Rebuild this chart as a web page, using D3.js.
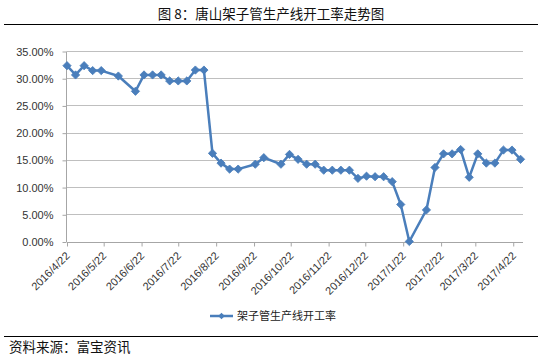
<!DOCTYPE html>
<html>
<head>
<meta charset="utf-8">
<script src="https://cdn.jsdelivr.net/npm/d3@7/dist/d3.min.js"></script>
<style>
  html, body { margin: 0; padding: 0; background: #fff; }
  svg { display: block; }
</style>
</head>
<body>
<div id="chart"></div>
<script>
// ---- data ----
const titleText = "图 8：唐山架子管生产线开工率走势图";
const sourceText = "资料来源：富宝资讯";
const seriesName = "架子管生产线开工率";

const dates = ["2016-04-22","2016-04-29","2016-05-06","2016-05-13","2016-05-20","2016-06-03","2016-06-17","2016-06-24",
  "2016-07-01","2016-07-08","2016-07-15","2016-07-22","2016-07-29","2016-08-05","2016-08-12","2016-08-19","2016-08-26",
  "2016-09-02","2016-09-09","2016-09-23","2016-09-30","2016-10-14","2016-10-21","2016-10-28","2016-11-04","2016-11-11",
  "2016-11-18","2016-11-25","2016-12-02","2016-12-09","2016-12-16","2016-12-23","2016-12-30","2017-01-06","2017-01-13",
  "2017-01-20","2017-01-27","2017-02-10","2017-02-17","2017-02-24","2017-03-03","2017-03-10","2017-03-17","2017-03-24",
  "2017-03-31","2017-04-07","2017-04-14","2017-04-21","2017-04-28"];

const values = [32.3,30.6,32.3,31.4,31.4,30.4,27.6,30.6,30.6,30.6,29.5,29.5,29.5,31.5,31.5,
  16.2,14.4,13.3,13.3,14.2,15.4,14.2,16.0,15.1,14.2,14.2,13.1,13.1,13.1,13.1,
  11.6,12.0,11.9,11.9,11.0,6.8,0,5.8,13.6,16.1,16.1,16.9,11.8,16.1,14.4,14.4,16.8,16.8,15.1];

const xTicks = ["2016-04-22","2016-05-22","2016-06-22","2016-07-22","2016-08-22","2016-09-22","2016-10-22",
  "2016-11-22","2016-12-22","2017-01-22","2017-02-22","2017-03-22","2017-04-22"];
const xTickLabels = ["2016/4/22","2016/5/22","2016/6/22","2016/7/22","2016/8/22","2016/9/22","2016/10/22",
  "2016/11/22","2016/12/22","2017/1/22","2017/2/22","2017/3/22","2017/4/22"];
const yTicks = [0,5,10,15,20,25,30,35];
const yTickLabels = ["0.00%","5.00%","10.00%","15.00%","20.00%","25.00%","30.00%","35.00%"];

// ---- chart ----
const W = 543, H = 357;
const parse = d3.utcParse("%Y-%m-%d");
const data = dates.map((d, i) => ({ date: parse(d), v: values[i] }));

const svg = d3.select("#chart").append("svg").attr("width", W).attr("height", H);
svg.append("rect").attr("width", W).attr("height", H).attr("fill", "#fff");

const cjk = "'Noto Sans CJK SC', 'Noto Sans', sans-serif";
const latin = "'Liberation Sans', Arial, sans-serif";

// title
svg.append("text").attr("x", 271).attr("y", 19).attr("text-anchor", "middle")
  .attr("font-family", cjk).attr("font-size", 13.5).attr("fill", "#111").text(titleText);
svg.append("line").attr("x1", 4).attr("x2", 538).attr("y1", 24.5).attr("y2", 24.5)
  .attr("stroke", "#000").attr("stroke-width", 1);

// scales
const x = d3.scaleUtc().domain([parse("2016-04-22"), parse("2017-04-30")]).range([67, 523]);
const y = d3.scaleLinear().domain([0, 35]).range([241.5, 51]);

// gridlines
svg.append("g").selectAll("line").data(yTicks).join("line")
  .attr("x1", 67).attr("x2", 523)
  .attr("y1", d => Math.round(y(d)) + 0.5).attr("y2", d => Math.round(y(d)) + 0.5)
  .attr("stroke", "#bfbfbf").attr("stroke-width", 1.2);

// y axis
const yAxis = d3.axisLeft(y).tickValues(yTicks).tickSize(4).tickPadding(9)
  .tickFormat((d, i) => yTickLabels[i]);
const gy = svg.append("g").attr("transform", "translate(66.5,0.5)").call(yAxis);
gy.selectAll(".tick line").attr("stroke", "#a6a6a6");
gy.selectAll(".tick text").attr("font-family", latin).attr("font-size", 11).attr("fill", "#333");
gy.select(".domain").attr("stroke", "#a6a6a6").attr("d", `M0,${y(0)}V${y(35)}`);

// x axis
const xAxis = d3.axisBottom(x).tickValues(xTicks.map(parse)).tickSize(4)
  .tickFormat((d, i) => xTickLabels[i]);
const gx = svg.append("g").attr("transform", `translate(0,${Math.round(y(0)) + 0.5})`).call(xAxis);
gx.select(".domain").attr("stroke", "#a6a6a6").attr("d", `M67,0H523`);
gx.selectAll(".tick line").attr("stroke", "#a6a6a6");
gx.selectAll(".tick text")
  .attr("font-family", latin).attr("font-size", 11).attr("fill", "#333")
  .attr("text-anchor", "end").attr("dy", null).attr("y", 0)
  .attr("transform", "translate(3,14) rotate(-45)");

// line
const lineColor = "#4a7ebb";
svg.append("path").datum(data)
  .attr("d", d3.line().x(d => x(d.date)).y(d => y(d.v)))
  .attr("fill", "none").attr("stroke", lineColor).attr("stroke-width", 2.5)
  .attr("stroke-linejoin", "round");

const diamond = d3.symbol().type(d3.symbolSquare).size(34);
svg.append("g").selectAll("path").data(data).join("path")
  .attr("d", diamond)
  .attr("transform", d => `translate(${x(d.date)},${y(d.v)}) rotate(45)`)
  .attr("fill", lineColor).attr("stroke", lineColor).attr("stroke-width", 0.8);

// legend
const lg = svg.append("g").attr("transform", "translate(210,316)");
lg.append("line").attr("x1", 0).attr("x2", 23).attr("y1", 0).attr("y2", 0)
  .attr("stroke", lineColor).attr("stroke-width", 2.5);
lg.append("path").attr("d", d3.symbol().type(d3.symbolSquare).size(22))
  .attr("transform", "translate(11.5,0) rotate(45)").attr("fill", lineColor);
lg.append("text").attr("x", 27).attr("y", 4).attr("font-family", cjk).attr("font-size", 11)
  .attr("fill", "#222").text(seriesName);

// footer
svg.append("line").attr("x1", 4).attr("x2", 538).attr("y1", 336.5).attr("y2", 336.5)
  .attr("stroke", "#000").attr("stroke-width", 1);
svg.append("text").attr("x", 9).attr("y", 352).attr("font-family", cjk).attr("font-size", 13.5)
  .attr("fill", "#111").text(sourceText);
</script>
</body>
</html>
